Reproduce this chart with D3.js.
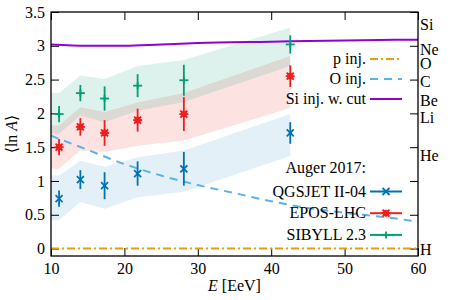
<!DOCTYPE html>
<html>
<head>
<meta charset="utf-8">
<script src="https://cdn.jsdelivr.net/npm/d3@7"></script>
<style>
  body { margin: 0; background: #fff; }
  svg text { font-family: "Liberation Serif", "Times New Roman", Tinos, "DejaVu Serif", serif; font-size: 16px; fill: #000; }
</style>
</head>
<body>
<div class="chartHolder"></div>
<script>
// Auger 2017 <lnA> points (energies in EeV)
var energies = [11.1, 14.0, 17.3, 21.8, 28.1, 42.6];
var qgsjet = [0.74, 1.02, 0.93, 1.11, 1.18, 1.71];
var qgsjetErr = [0.12, 0.14, 0.20, 0.18, 0.25, 0.16];
var qgsjetUp = [1.08, 1.30, 1.21, 1.35, 1.45, 1.99];
var qgsjetLow = [0.42, 0.69, 0.59, 0.76, 0.84, 1.37];
var epos = [1.50, 1.80, 1.71, 1.90, 1.99, 2.55];
var eposErr = [0.12, 0.13, 0.19, 0.17, 0.25, 0.16];
var eposUp = [1.82, 2.09, 2.02, 2.16, 2.30, 2.85];
var eposLow = [1.18, 1.45, 1.43, 1.52, 1.60, 2.08];
var sibyll = [1.99, 2.30, 2.22, 2.41, 2.49, 3.02];
var sibyllErr = [0.12, 0.12, 0.18, 0.17, 0.23, 0.135];
var sibyllUp = [2.30, 2.56, 2.51, 2.70, 2.79, 3.27];
var sibyllLow = [1.70, 1.97, 1.87, 2.04, 2.17, 2.70];

// model lines
var siE = [10, 15, 20, 25, 30, 40, 50, 60];
var siLnA = [3.02, 3.00, 3.00, 3.02, 3.04, 3.06, 3.08, 3.09];
var oE = [10, 15, 20, 25, 30, 35, 40, 45, 50, 55, 60];
var oLnA = [1.67, 1.46, 1.25, 1.08, 0.94, 0.82, 0.70, 0.60, 0.53, 0.47, 0.40];
var pE = [10, 60];
var pLnA = [0, 0];

var xTicks = [10, 20, 30, 40, 50, 60];
var yTicks = [0, 0.5, 1, 1.5, 2, 2.5, 3, 3.5];
var elements = ["H", "He", "Li", "Be", "C", "O", "Ne", "Si"];
var massNumbers = [1, 4, 7, 9, 12, 16, 20, 28];

var serif = "'Liberation Serif', 'Times New Roman', Tinos, 'DejaVu Serif', serif";
var svgW = 450, svgH = 300;
var margin = { top: 12, right: 32, bottom: 44, left: 51 };
var w = svgW - margin.left - margin.right,
    h = svgH - margin.top - margin.bottom;

var svg = d3.select(".chartHolder").append("svg").attr("width", svgW).attr("height", svgH)
  .attr("font-family", serif).attr("font-size", 16);
var g = svg.append("g").attr("transform", "translate(" + margin.left + "," + margin.top + ")");

var xScale = d3.scaleLinear().domain([10, 60]).range([0, w]);
var yScale = d3.scaleLinear().domain([-0.11, 3.5]).range([h, 0]);

var blue = "#0072b2", red = "#f01e1e", green = "#009e73";

// systematic bands, flat from the left frame edge to the first point
var bandE = [xScale.domain()[0]].concat(energies);
function band(up, low) {
  var u = [up[0]].concat(up), l = [low[0]].concat(low);
  return bandE.map(function (e, i) { return { e: e, up: u[i], low: l[i] }; });
}
var area = d3.area()
  .x(function (d) { return xScale(d.e); })
  .y0(function (d) { return yScale(d.low); })
  .y1(function (d) { return yScale(d.up); });

g.append("path").datum(band(qgsjetUp, qgsjetLow)).attr("d", area).attr("fill", blue).attr("fill-opacity", 0.11);
g.append("path").datum(band(eposUp, eposLow)).attr("d", area).attr("fill", red).attr("fill-opacity", 0.13);
g.append("path").datum(band(sibyllUp, sibyllLow)).attr("d", area).attr("fill", green).attr("fill-opacity", 0.13);

// axes (ticks point inwards, mirrored on top and right)
var xAxis = d3.axisBottom(xScale).tickValues(xTicks).tickSizeInner(-8).tickSizeOuter(0).tickPadding(7);
var yAxis = d3.axisLeft(yScale).tickValues(yTicks).tickSizeInner(-8).tickSizeOuter(0).tickPadding(6)
  .tickFormat(function (d) { return d; });
var xTop = d3.axisTop(xScale).tickValues(xTicks).tickSizeInner(-8).tickSizeOuter(0).tickFormat("");
var yRight = d3.axisRight(yScale).tickValues(yTicks).tickSizeInner(-8).tickSizeOuter(0).tickFormat("");

g.append("g").attr("transform", "translate(0," + h + ")").call(xAxis);
g.append("g").call(yAxis);
g.append("g").call(xTop);
g.append("g").attr("transform", "translate(" + w + ",0)").call(yRight);
g.selectAll(".domain").remove();
g.selectAll(".tick line").attr("stroke", "#000").attr("stroke-width", 1);
g.selectAll("g").attr("font-family", serif).attr("font-size", 16);

// element labels on the right
g.selectAll(".elem").data(elements).enter().append("text").attr("class", "elem")
  .attr("x", w + 2)
  .attr("y", function (d, i) { return yScale(Math.log(massNumbers[i])); })
  .attr("dy", function (d) { return d == "Ne" ? "0.55em" : d == "O" ? "0.5em" : "0.4em"; })
  .text(function (d) { return d; });

// model lines
var line = d3.line()
  .x(function (d) { return xScale(d[0]); })
  .y(function (d) { return yScale(d[1]); });

g.append("path").datum(d3.zip(pE, pLnA)).attr("d", line).attr("fill", "none")
  .attr("stroke", "#e69f00").attr("stroke-width", 2).attr("stroke-dasharray", "8,3,2,3");
g.append("path").datum(d3.zip(oE, oLnA)).attr("d", line.curve(d3.curveMonotoneX)).attr("fill", "none")
  .attr("stroke", "#56b4e9").attr("stroke-width", 2).attr("stroke-dasharray", "8,6");
g.append("path").datum(d3.zip(siE, siLnA)).attr("d", line.curve(d3.curveMonotoneX)).attr("fill", "none")
  .attr("stroke", "#9400d3").attr("stroke-width", 2);

// marker shapes
function drawMarker(sel, type, color) {
  var s = 3.5;
  if (type == "x" || type == "*") {
    sel.append("line").attr("x1", -s).attr("y1", -s).attr("x2", s).attr("y2", s);
    sel.append("line").attr("x1", -s).attr("y1", s).attr("x2", s).attr("y2", -s);
  }
  if (type == "+" || type == "*") {
    sel.append("line").attr("x1", -s - 1).attr("y1", 0).attr("x2", s + 1).attr("y2", 0);
    sel.append("line").attr("x1", 0).attr("y1", -s).attr("x2", 0).attr("y2", s);
  }
  if (type == "*") {
    sel.append("rect").attr("x", -3).attr("y", -3).attr("width", 6).attr("height", 6).attr("fill", color);
  }
  sel.selectAll("line").attr("stroke", color).attr("stroke-width", 1.8);
}

var series = [
  { name: "QGSJET II-04", vals: qgsjet, err: qgsjetErr, color: blue, marker: "x" },
  { name: "EPOS-LHC", vals: epos, err: eposErr, color: red, marker: "*" },
  { name: "SIBYLL 2.3", vals: sibyll, err: sibyllErr, color: green, marker: "+" }
];

series.forEach(function (s) {
  var pts = g.selectAll(null).data(s.vals).enter().append("g")
    .attr("transform", function (d, i) { return "translate(" + xScale(energies[i]) + "," + yScale(d) + ")"; });
  pts.append("line").attr("x1", 0).attr("x2", 0)
    .attr("y1", function (d, i) { return yScale(d + s.err[i]) - yScale(d); })
    .attr("y2", function (d, i) { return yScale(d - s.err[i]) - yScale(d); })
    .attr("stroke", s.color).attr("stroke-width", 2);
  pts.each(function () { drawMarker(d3.select(this), s.marker, s.color); });
});

// frame
g.append("rect").attr("width", w).attr("height", h).attr("fill", "none").attr("stroke", "#000").attr("stroke-width", 1.3);

// legend
var lx1 = 370 - margin.left, lx2 = 402 - margin.left, tx = 366 - margin.left;
var legLines = [
  { label: "p inj.", color: "#e69f00", dash: "8,3,2,3", y: 59 },
  { label: "O inj.", color: "#56b4e9", dash: "8,6", y: 79 },
  { label: "Si inj. w. cut", color: "#9400d3", dash: null, y: 99 }
];
legLines.forEach(function (d) {
  var yy = d.y - margin.top;
  g.append("text").attr("x", tx).attr("y", yy).attr("dy", "0.33em").attr("text-anchor", "end").text(d.label);
  g.append("line").attr("x1", lx1).attr("x2", lx2).attr("y1", yy).attr("y2", yy)
    .attr("stroke", d.color).attr("stroke-width", 2).attr("stroke-dasharray", d.dash);
});

g.append("text").attr("x", tx).attr("y", 168 - margin.top).attr("dy", "0.33em").attr("text-anchor", "end").text("Auger 2017:");
series.forEach(function (s, i) {
  var yy = 191.5 + i * 21.7 - margin.top;
  g.append("text").attr("x", tx).attr("y", yy).attr("dy", "0.33em").attr("text-anchor", "end").text(s.name);
  g.append("line").attr("x1", lx1).attr("x2", lx2).attr("y1", yy).attr("y2", yy).attr("stroke", s.color).attr("stroke-width", 2);
  var m = g.append("g").attr("transform", "translate(" + ((lx1 + lx2) / 2) + "," + yy + ")");
  drawMarker(m, s.marker, s.color);
});

// axis titles
var xl = svg.append("text").attr("x", margin.left + w / 2).attr("y", 291).attr("text-anchor", "middle");
xl.append("tspan").attr("font-style", "italic").text("E");
xl.append("tspan").text(" [EeV]");

var yl = svg.append("text").attr("transform", "translate(17," + (margin.top + h / 2) + ") rotate(-90)").attr("text-anchor", "middle");
yl.append("tspan").text("⟨ln ");
yl.append("tspan").attr("font-style", "italic").text("A");
yl.append("tspan").text("⟩");
</script>
</body>
</html>
